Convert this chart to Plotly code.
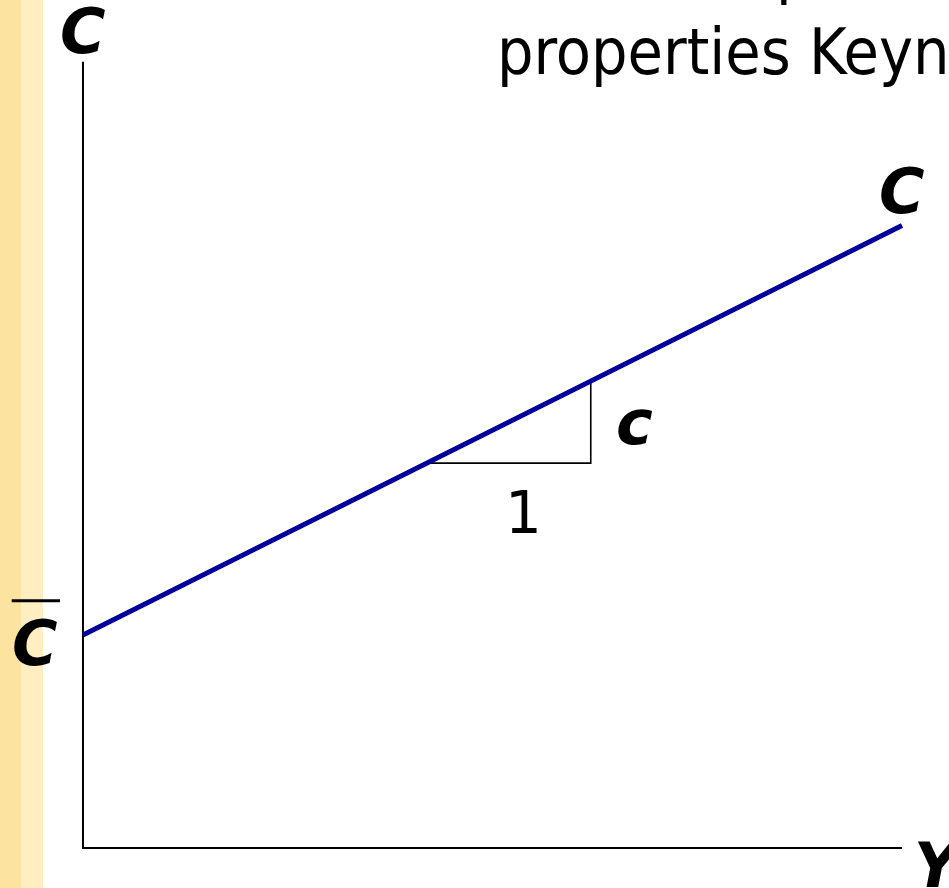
import plotly.graph_objects as go

# Keynesian consumption function C = Cbar + c*Y
Y_max = 10.0
C_axis_max = 9.6
C_bar = 2.6          # autonomous consumption (intercept)
c_mpc = 0.5          # marginal propensity to consume (slope)
tri_Y = [4.2, 6.2]   # run of the slope triangle

Y_line = [0.0, Y_max]
C_line = [C_bar + c_mpc * y for y in Y_line]

tri_x = [tri_Y[0], tri_Y[1], tri_Y[1]]
tri_y = [C_bar + c_mpc * tri_Y[0], C_bar + c_mpc * tri_Y[0], C_bar + c_mpc * tri_Y[1]]

fig = go.Figure()

# axes
fig.add_trace(go.Scatter(x=[0, 0, Y_max], y=[C_axis_max, 0, 0], mode="lines",
                         line=dict(color="black", width=2), hoverinfo="skip"))
# slope triangle
fig.add_trace(go.Scatter(x=tri_x, y=tri_y, mode="lines",
                         line=dict(color="black", width=1.6), hoverinfo="skip"))
# consumption function
fig.add_trace(go.Scatter(x=Y_line, y=C_line, mode="lines",
                         line=dict(color="#000099", width=5), hoverinfo="skip"))

bi = dict(family="DejaVu Sans", size=62, color="black")
title_font = dict(family="DejaVu Sans Condensed, Liberation Sans", size=64, color="black")
ann = []
ann.append(dict(x=0, y=C_axis_max, text="<b><i>C</i></b>", showarrow=False, font=bi,
                xanchor="center", yanchor="middle", yshift=30))
ann.append(dict(x=Y_line[1], y=C_line[1], text="<b><i>C</i></b>", showarrow=False, font=bi,
                xanchor="center", yanchor="middle", yshift=34))
ann.append(dict(x=tri_Y[1], y=(tri_y[1] + tri_y[2]) / 2, text="<b><i>c</i></b>", showarrow=False, font=bi,
                xanchor="center", yanchor="middle", xshift=44))
ann.append(dict(x=(tri_Y[0] + tri_Y[1]) / 2, y=tri_y[0], text="1", showarrow=False,
                font=dict(family="DejaVu Sans", size=58, color="black"),
                xanchor="center", yanchor="middle", xshift=15, yshift=-50))
ann.append(dict(x=0, y=C_bar, text="<b><i>C</i></b>", showarrow=False, font=bi,
                xanchor="center", yanchor="middle", xshift=-48, yshift=-8))
ann.append(dict(x=Y_max, y=0, text="<b><i>Y</i></b>", showarrow=False, font=bi,
                xanchor="center", yanchor="middle", xshift=38, yshift=-17))
ann.append(dict(xref="paper", yref="paper", x=495 / 949, y=1 - 52 / 888, text="properties Keyn",
                showarrow=False, font=title_font, xanchor="left", yanchor="middle"))
# descender of the slide text line above (cut off by the top edge)
ann.append(dict(xref="paper", yref="paper", x=774 / 949, y=1 + 30 / 888, text="p",
                showarrow=False, font=title_font, xanchor="left", yanchor="middle"))

shapes = [
    # decorative slide side strip
    dict(type="rect", xref="paper", yref="paper", x0=0, x1=21 / 949, y0=0, y1=1,
         fillcolor="#FCE3A0", line=dict(width=0), layer="below"),
    dict(type="rect", xref="paper", yref="paper", x0=21 / 949, x1=43 / 949, y0=0, y1=1,
         fillcolor="#FEEEC2", line=dict(width=0), layer="below"),
    # overbar on C-bar
    dict(type="line", xref="x", yref="y", x0=-0.87, x1=-0.28, y0=C_bar + 0.42, y1=C_bar + 0.42,
         line=dict(color="black", width=3)),
]

fig.update_layout(
    width=949, height=888,
    margin=dict(l=0, r=0, t=0, b=0),
    paper_bgcolor="white", plot_bgcolor="white",
    showlegend=False,
    annotations=ann, shapes=shapes,
    xaxis=dict(range=[-1.013, 10.574], visible=False, fixedrange=True),
    yaxis=dict(range=[-0.488, 10.354], visible=False, fixedrange=True),
)

fig.write_html("out.html", config={"displayModeBar": False},
               post_script="document.body.style.margin='0';")
